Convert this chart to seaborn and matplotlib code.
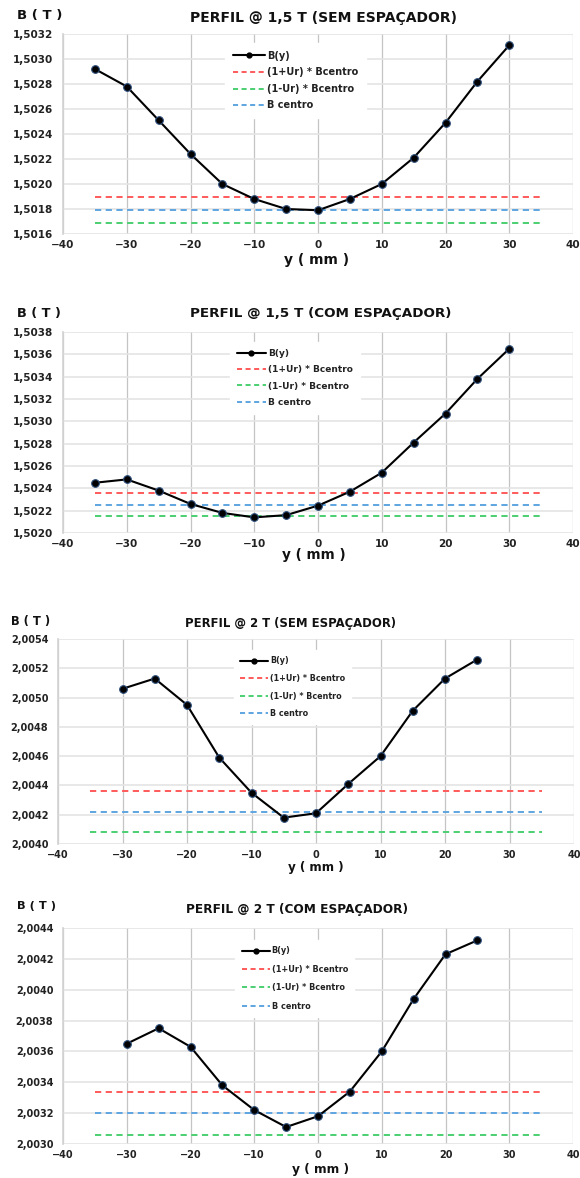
import matplotlib
matplotlib.use("Agg")
import matplotlib.pyplot as plt
from matplotlib.ticker import FuncFormatter, MultipleLocator
from matplotlib.lines import Line2D
import seaborn as sns
import pandas as pd

sns.set_theme(style="white")
plt.rcParams['font.family'] = ['DejaVu Sans']

# ---------------- data ----------------
titles = ["PERFIL @ 1,5 T (SEM ESPAÇADOR)", "PERFIL @ 1,5 T (COM ESPAÇADOR)",
          "PERFIL @ 2 T (SEM ESPAÇADOR)", "PERFIL @ 2 T (COM ESPAÇADOR)"]

y1 = [-35, -30, -25, -20, -15, -10, -5, 0, 5, 10, 15, 20, 25, 30]
b1 = [1.50292, 1.50278, 1.50251, 1.50224, 1.50200, 1.50188, 1.50180, 1.50179,
      1.50188, 1.50200, 1.50221, 1.50249, 1.50282, 1.50311]
ref1 = [1.50190, 1.50169, 1.50179]  # (1+Ur)*Bc, (1-Ur)*Bc, Bc

y2 = [-35, -30, -25, -20, -15, -10, -5, 0, 0, 5, 10, 15, 20, 25, 30]
b2 = [1.50245, 1.50248, 1.50238, 1.50226, 1.50218, 1.50214, 1.50216, 1.50223, 1.50226,
      1.50237, 1.50254, 1.50281, 1.50307, 1.50338, 1.50365]
ref2 = [1.50236, 1.50215, 1.50225]

y3 = [-30, -25, -20, -15, -10, -5, 0, 5, 10, 15, 20, 25]
b3 = [2.00506, 2.00513, 2.00495, 2.00459, 2.00435, 2.00418, 2.00421,
      2.00441, 2.00460, 2.00491, 2.00513, 2.00526]
ref3 = [2.00436, 2.00408, 2.00422]

y4 = [-30, -25, -20, -15, -10, -5, 0, 0, 5, 10, 15, 20, 25]
b4 = [2.00365, 2.00375, 2.00363, 2.00338, 2.00322, 2.00311, 2.00316, 2.00320,
      2.00334, 2.00360, 2.00394, 2.00423, 2.00432]
ref4 = [2.00334, 2.00306, 2.00320]

ref_span = [-35, 35]
ylims = [(1.5016, 1.5032), (1.5020, 1.5038), (2.0040, 2.0054), (2.0030, 2.0044)]
ref_labels = ["(1+Ur) * Bcentro", "(1-Ur) * Bcentro", "B centro"]
ref_colors = ["#ff5a5a", "#4ccf72", "#5ea5e0"]

# ---------------- layout (pixels) ----------------
W, H = 580, 1178
fig = plt.figure(figsize=(W / 100, H / 100), dpi=100)
boxes = [(63, 573, 34, 234), (63, 573, 332, 533), (58, 574, 639, 844), (63, 573, 928, 1144)]
title_pos = [(324, 18, 10.0), (321, 313, 9.7), (291, 623, 8.4), (297, 910, 8.7)]
bt_pos = [(17, 15, 9.5), (17, 313, 9.3), (11, 621, 8.3), (17, 906, 8.2)]
xl_pos = [(317, 260, 10.0), (314, 555, 9.8), (316, 868, 8.6), (320, 1170, 8.8)]
tick_size = [7.5, 7.5, 7.0, 7.0]
# legend: handle start x, first row center y, font size, labelspacing, handle length
leg_pos = [(233, 54, 7.0, 0.67, 3.3), (237, 352, 6.5, 0.80, 3.2),
           (240, 659, 5.8, 1.06, 3.5), (242, 949, 5.9, 1.15, 3.4)]

datasets = [(y1, b1, ref1), (y2, b2, ref2), (y3, b3, ref3), (y4, b4, ref4)]

fmt = FuncFormatter(lambda v, p: f"{v:.4f}".replace(".", ","))

for i, ((ys, bs, refs), (l, r, t, b)) in enumerate(zip(datasets, boxes)):
    ax = fig.add_axes([l / W, 1 - b / H, (r - l) / W, (b - t) / H])
    for k in range(3):
        df_ref = pd.DataFrame({"y": ref_span, "B": [refs[k], refs[k]]})
        sns.lineplot(data=df_ref, x="y", y="B", ax=ax, color=ref_colors[k],
                     linestyle=(0, (3.2, 2.3)), linewidth=1.4, zorder=2)
    df = pd.DataFrame({"y": ys, "B": bs})
    sns.lineplot(data=df, x="y", y="B", ax=ax, color="black", linewidth=1.5,
                 marker="o", markersize=5.5, markerfacecolor="black",
                 markeredgecolor="#2c4d7a", markeredgewidth=0.8, zorder=3,
                 sort=False)

    ax.set_xlim(-40, 40)
    ax.set_ylim(*ylims[i])
    ax.xaxis.set_major_locator(MultipleLocator(10))
    ax.yaxis.set_major_locator(MultipleLocator(0.0002))
    ax.yaxis.set_major_formatter(fmt)
    ax.xaxis.grid(True, color="#c4c4c4", linewidth=0.9)
    ax.yaxis.grid(True, color="#e4e4e4", linewidth=1.2)
    ax.set_axisbelow(True)
    for s in ["top", "right", "bottom"]:
        ax.spines[s].set_visible(False)
    ax.spines["left"].set_color("#d4d4d4")
    ts = tick_size[i]
    ax.tick_params(axis="y", length=0, pad=7, labelsize=ts, labelcolor="#222222")
    ax.tick_params(axis="x", length=0, pad=4, labelsize=ts, labelcolor="#222222")
    for lab in ax.get_xticklabels() + ax.get_yticklabels():
        lab.set_fontweight("bold")
    ax.set_xlabel("")
    ax.set_ylabel("")

    tx, ty, tsz = title_pos[i]
    fig.text(tx / W, 1 - ty / H, titles[i], fontsize=tsz, fontweight="bold",
             ha="center", va="center", color="#111111")
    bx, by, bsz = bt_pos[i]
    fig.text(bx / W, 1 - by / H, "B ( T )", fontsize=bsz, fontweight="bold",
             ha="left", va="center", color="#111111")
    xx, xy, xsz = xl_pos[i]
    fig.text(xx / W, 1 - xy / H, "y ( mm )", fontsize=xsz, fontweight="bold",
             ha="center", va="center", color="#111111")

    hx, ry, lfs, lsp, hl = leg_pos[i]
    fpx = lfs * 100 / 72
    handles = [Line2D([], [], color="black", linewidth=1.5, marker="o", markersize=3.5)]
    for k in range(3):
        handles.append(Line2D([], [], color=ref_colors[k], linestyle=(0, (2.6, 1.8)), linewidth=1.4))
    ax_x = (hx - 0.8 * fpx) / W
    ax_y = 1 - (ry - 1.12 * fpx) / H
    leg = ax.legend(handles, ["B(y)"] + ref_labels, loc="upper left",
                    bbox_to_anchor=(ax_x, ax_y), bbox_transform=fig.transFigure,
                    frameon=True, fancybox=False,
                    facecolor="white", edgecolor="white", framealpha=1,
                    fontsize=lfs, handlelength=hl, handletextpad=0.2,
                    labelspacing=lsp, borderpad=0.8, borderaxespad=0)
    for txt in leg.get_texts():
        txt.set_fontweight("bold")
        txt.set_color("#222222")

fig.savefig("out.png", dpi=100)
